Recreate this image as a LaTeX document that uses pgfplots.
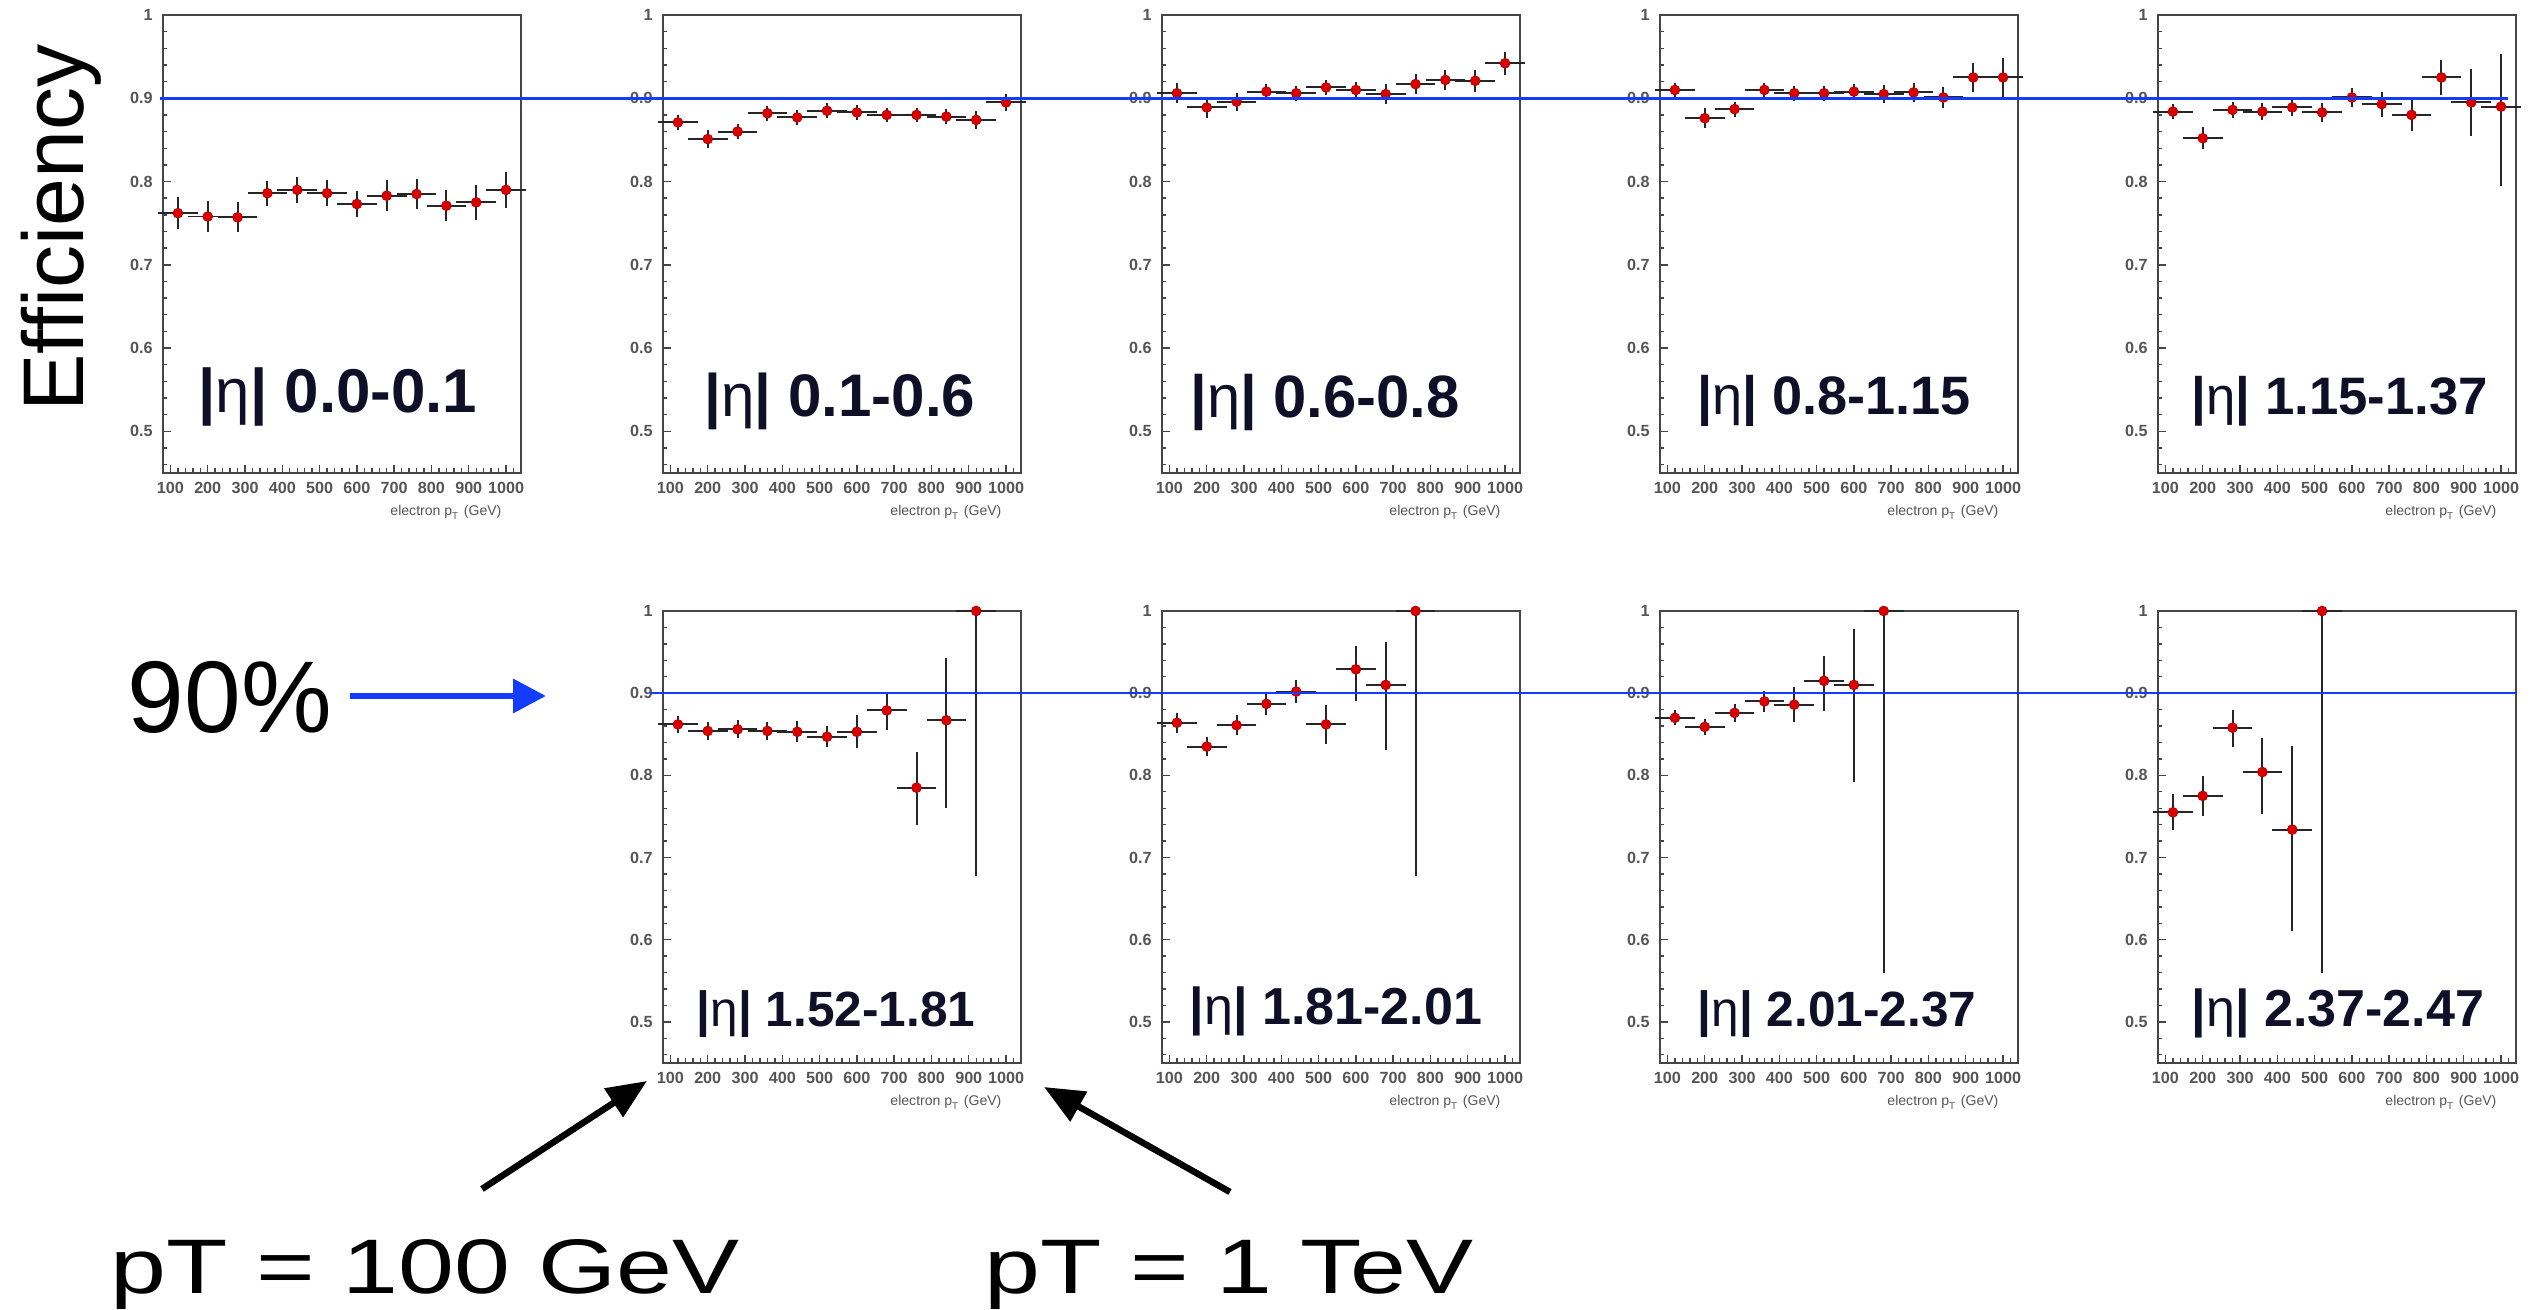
\documentclass[border=0pt]{standalone}
\usepackage{fontspec}
\setmainfont{Liberation Sans}
\usepackage{pgfplots}
\pgfplotsset{compat=1.18}
\usepackage{pgfplotstable}
\usetikzlibrary{arrows.meta}
\definecolor{rootframe}{RGB}{70,70,70}
\definecolor{ticktext}{RGB}{85,85,85}
\definecolor{labnavy}{RGB}{15,15,40}
\definecolor{lineblue}{RGB}{20,60,255}

% columns: pT bin centre, efficiency, error up, error down
\pgfplotstableread{
x y ep em
120 0.762 0.013 0.013
200 0.758 0.013 0.013
280 0.757 0.012 0.012
360 0.786 0.009 0.009
440 0.790 0.010 0.010
520 0.786 0.010 0.010
600 0.773 0.010 0.010
680 0.783 0.013 0.013
760 0.785 0.012 0.012
840 0.771 0.013 0.013
920 0.775 0.015 0.015
1000 0.790 0.016 0.016
}\etaA
\pgfplotstableread{
x y ep em
120 0.871 0.003 0.003
200 0.851 0.005 0.005
280 0.860 0.003 0.003
360 0.882 0.003 0.003
440 0.877 0.003 0.003
520 0.885 0.003 0.003
600 0.883 0.003 0.003
680 0.880 0.003 0.003
760 0.880 0.003 0.003
840 0.878 0.003 0.003
920 0.874 0.005 0.005
1000 0.895 0.004 0.004
}\etaB
\pgfplotstableread{
x y ep em
120 0.906 0.006 0.006
200 0.889 0.007 0.007
280 0.896 0.005 0.005
360 0.908 0.003 0.003
440 0.906 0.003 0.003
520 0.913 0.003 0.003
600 0.910 0.004 0.004
680 0.905 0.006 0.006
760 0.917 0.006 0.006
840 0.922 0.006 0.006
920 0.921 0.007 0.007
1000 0.942 0.008 0.008
}\etaC
\pgfplotstableread{
x y ep em
120 0.910 0.003 0.003
200 0.876 0.006 0.006
280 0.887 0.003 0.003
360 0.910 0.003 0.003
440 0.906 0.003 0.003
520 0.906 0.003 0.003
600 0.908 0.003 0.003
680 0.905 0.005 0.005
760 0.907 0.005 0.005
840 0.901 0.007 0.007
920 0.925 0.012 0.012
1000 0.925 0.017 0.017
}\etaD
\pgfplotstableread{
x y ep em
120 0.884 0.003 0.003
200 0.852 0.007 0.007
280 0.886 0.004 0.004
360 0.884 0.004 0.004
440 0.889 0.004 0.004
520 0.883 0.006 0.006
600 0.901 0.006 0.006
680 0.893 0.009 0.009
760 0.880 0.013 0.013
840 0.925 0.015 0.015
920 0.895 0.034 0.034
1000 0.890 0.057 0.090
}\etaE
\pgfplotstableread{
x y ep em
120 0.862 0.004 0.004
200 0.854 0.005 0.005
280 0.856 0.005 0.005
360 0.854 0.005 0.005
440 0.853 0.007 0.007
520 0.847 0.007 0.007
600 0.853 0.014 0.014
680 0.879 0.016 0.018
760 0.785 0.037 0.040
840 0.867 0.070 0.101
920 1.000 0.000 0.316
}\etaF
\pgfplotstableread{
x y ep em
120 0.864 0.006 0.006
200 0.835 0.006 0.006
280 0.861 0.006 0.006
360 0.887 0.007 0.007
440 0.902 0.008 0.008
520 0.862 0.018 0.018
600 0.929 0.023 0.032
680 0.910 0.046 0.073
760 1.000 0.000 0.316
}\etaG
\pgfplotstableread{
x y ep em
120 0.870 0.003 0.003
200 0.859 0.004 0.004
280 0.876 0.005 0.005
360 0.890 0.007 0.007
440 0.886 0.015 0.015
520 0.915 0.024 0.031
600 0.910 0.062 0.112
680 1.000 0.000 0.434
}\etaH
\pgfplotstableread{
x y ep em
120 0.755 0.016 0.016
200 0.775 0.018 0.018
280 0.858 0.016 0.018
360 0.804 0.036 0.045
440 0.734 0.096 0.118
520 1.000 0.000 0.434
}\etaI

\pgfplotsset{
  eff/.style={
    scale only axis, width=35.8mm,
    anchor=south west,
    xmin=80, xmax=1040, ymin=0.45, ymax=1.0,
    clip=false,
    axis line style={draw=rootframe, line width=0.6pt},
    xtick={100,200,300,400,500,600,700,800,900,1000},
    xticklabels={100,200,300,400,500,600,700,800,900,1000},
    minor xtick={80,100,...,1040},
    ytick={0.5,0.6,0.7,0.8,0.9,1},
    yticklabels={0.5,0.6,0.7,0.8,0.9,1},
    minor ytick={0.46,0.48,0.52,0.54,0.56,0.58,0.62,0.64,0.66,0.68,0.72,0.74,0.76,0.78,0.82,0.84,0.86,0.88,0.92,0.94,0.96,0.98},
    tick align=inside, xtick pos=bottom, ytick pos=left,
    major tick length=0.8mm, minor tick length=0.45mm,
    tick style={draw=rootframe, line width=0.4pt},
    ticklabel style={font=\fontsize{4.6}{5}\selectfont\bfseries, text=ticktext},
    xticklabel style={yshift=0.3mm},
    yticklabel style={xshift=0.2mm},
    xlabel={electron p\textsubscript{T} (GeV)},
    xlabel style={at={(axis description cs:0.98,0)}, anchor=north east,
      yshift=-2.0mm, font=\fontsize{4}{4.5}\selectfont, text=ticktext},
  },
  pts/.style={only marks, mark=*, mark size=1.4pt,
    mark options={fill=red!85!black, draw=red!70!black, line width=0.2pt},
    error bars/.cd, x dir=both, x fixed=40, y dir=both, y explicit,
    error bar style={line width=0.55pt, black!85},
    error mark options={line width=0.55pt, black!85, mark size=1.4pt}},
}

\begin{document}
\begin{tikzpicture}[x=0.1mm, y=0.1mm]
\useasboundingbox (0,0) rectangle (2537,1310);

% top row
\begin{axis}[eff, at={(16.3mm,83.7mm)}, height=45.8mm]
\addplot[pts] table[x=x, y=y, y error plus=ep, y error minus=em] {\etaA};
\coordinate (top9) at (axis cs:80,0.9);
\end{axis}
\begin{axis}[eff, at={(66.3mm,83.7mm)}, height=45.8mm]
\addplot[pts] table[x=x, y=y, y error plus=ep, y error minus=em] {\etaB};
\end{axis}
\begin{axis}[eff, at={(116.2mm,83.7mm)}, height=45.8mm]
\addplot[pts] table[x=x, y=y, y error plus=ep, y error minus=em] {\etaC};
\end{axis}
\begin{axis}[eff, at={(166.0mm,83.7mm)}, height=45.8mm]
\addplot[pts] table[x=x, y=y, y error plus=ep, y error minus=em] {\etaD};
\end{axis}
\begin{axis}[eff, at={(215.8mm,83.7mm)}, height=45.8mm]
\addplot[pts] table[x=x, y=y, y error plus=ep, y error minus=em] {\etaE};
\end{axis}

% bottom row
\begin{axis}[eff, at={(66.3mm,24.7mm)}, height=45.2mm]
\addplot[pts] table[x=x, y=y, y error plus=ep, y error minus=em] {\etaF};
\coordinate (bot9) at (axis cs:80,0.9);
\end{axis}
\begin{axis}[eff, at={(116.2mm,24.7mm)}, height=45.2mm]
\addplot[pts] table[x=x, y=y, y error plus=ep, y error minus=em] {\etaG};
\end{axis}
\begin{axis}[eff, at={(166.0mm,24.7mm)}, height=45.2mm]
\addplot[pts] table[x=x, y=y, y error plus=ep, y error minus=em] {\etaH};
\end{axis}
\begin{axis}[eff, at={(215.8mm,24.7mm)}, height=45.2mm]
\addplot[pts] table[x=x, y=y, y error plus=ep, y error minus=em] {\etaI};
\end{axis}

% 90% reference lines
\coordinate (a1) at (160,0); \coordinate (a2) at (2508,0);
\coordinate (b1) at (650,0); \coordinate (b2) at (2517,0);
\draw[lineblue, line width=0.25mm] (top9 -| a1) -- (top9 -| a2);
\draw[lineblue, line width=0.25mm] (bot9 -| b1) -- (bot9 -| b2);

% eta labels
\tikzset{etalab/.style={anchor=base, text=labnavy, inner sep=0pt}}
\newcommand\etatext[1]{\bfseries |\mdseries η\bfseries| #1}
\node[etalab, font=\fontsize{17.6}{20}\selectfont] at (338,897) {\etatext{0.0-0.1}};
\node[etalab, font=\fontsize{17.1}{20}\selectfont] at (840,893) {\etatext{0.1-0.6}};
\node[etalab, font=\fontsize{17.0}{20}\selectfont] at (1325,892) {\etatext{0.6-0.8}};
\node[etalab, font=\fontsize{15.4}{18}\selectfont] at (1834,895) {\etatext{0.8-1.15}};
\node[etalab, font=\fontsize{15.0}{18}\selectfont] at (2340,895) {\etatext{1.15-1.37}};
\node[etalab, font=\fontsize{14.1}{17}\selectfont] at (836,283) {\etatext{1.52-1.81}};
\node[etalab, font=\fontsize{14.8}{17}\selectfont] at (1336,285) {\etatext{1.81-2.01}};
\node[etalab, font=\fontsize{14.1}{17}\selectfont] at (1837,283) {\etatext{2.01-2.37}};
\node[etalab, font=\fontsize{14.8}{17}\selectfont] at (2338,283) {\etatext{2.37-2.47}};

% annotations
\node[rotate=90, anchor=base, inner sep=0pt, font=\fontsize{24.5}{28}\selectfont] at (83,1082) {Efficiency};
\node[anchor=base west, inner sep=0pt, font=\fontsize{29}{32}\selectfont] at (127,577) {90\%};
\draw[lineblue, line width=0.67mm, -{Triangle[length=3.3mm, width=3.3mm]}] (350,614) -- (546,614);
\draw[black, line width=0.65mm, -{Triangle[length=4mm, width=3.3mm]}] (482,121) -- (647,229);
\draw[black, line width=0.65mm, -{Triangle[length=4mm, width=3.3mm]}] (1230,118) -- (1044,223);
\node[anchor=base west, inner sep=0pt, xscale=1.3, font=\fontsize{22}{26}\selectfont] at (110,16) {pT = 100 GeV};
\node[anchor=base west, inner sep=0pt, xscale=1.3, font=\fontsize{22}{26}\selectfont] at (984,16) {pT = 1 TeV};
\end{tikzpicture}
\end{document}
